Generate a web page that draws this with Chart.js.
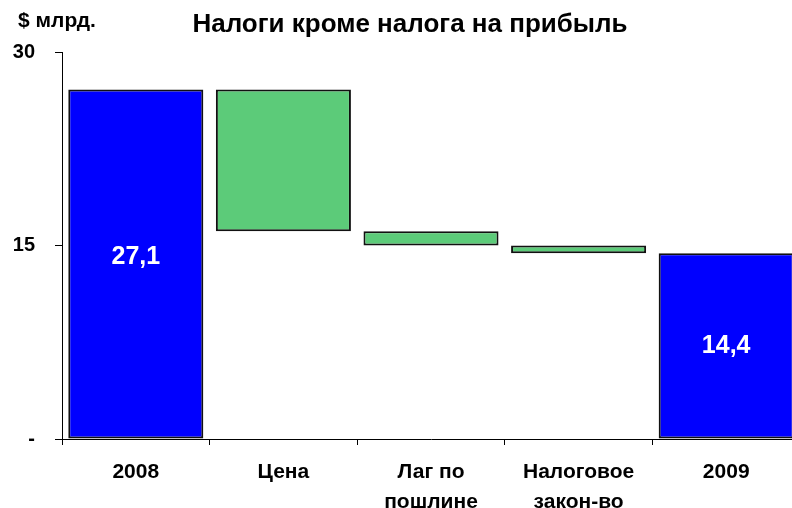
<!DOCTYPE html>
<html>
<head>
<meta charset="utf-8">
<script src="https://cdn.jsdelivr.net/npm/chart.js@4"></script>
<style>
  html, body { margin: 0; padding: 0; overflow: hidden; background: #fff; }
  #wrap { width: 800px; height: 508px; }
</style>
</head>
<body>
<div id="wrap"><canvas id="c" width="800" height="508"></canvas></div>
<script>
// Waterfall: non-profit taxes, $ bn
const categories = [['2008'], ['Цена'], ['Лаг по', 'пошлине'], ['Налоговое', 'закон-во'], ['2009']];
const totals = [27.1, null, null, null, 14.4];          // full bars
const changes = [null, [16.1, 27.1], [15.0, 16.1], [14.4, 15.0], null]; // floating steps
const totalLabels = ['27,1', null, null, null, '14,4'];
const yTicks = [0, 15, 30];

const BLUE = '#0000ff';
const GREEN = '#5ccb79';
const FONT = '"Liberation Sans", Arial, sans-serif';

const overlay = {
  id: 'overlay',
  afterDatasetsDraw(chart) {
    const ctx = chart.ctx;
    const meta = chart.getDatasetMeta(0);
    ctx.save();
    ctx.fillStyle = '#fff';
    ctx.font = 'bold 25px ' + FONT;
    ctx.textAlign = 'center';
    ctx.textBaseline = 'middle';
    totalLabels.forEach((t, i) => {
      if (!t) return;
      const el = meta.data[i];
      const y = chart.scales.y.getPixelForValue(totals[i] / 2);
      ctx.fillText(t, el.x, y - (i === 0 ? 7 : 0));
    });
    ctx.restore();
  },
  afterDraw(chart) {
    const ctx = chart.ctx;
    ctx.save();
    ctx.fillStyle = '#000';
    ctx.textBaseline = 'middle';
    ctx.font = 'bold 26px ' + FONT;
    ctx.textAlign = 'center';
    ctx.fillText('Налоги кроме налога на прибыль', 410, 25);
    ctx.font = 'bold 21px ' + FONT;
    ctx.textAlign = 'left';
    ctx.fillText('$ млрд.', 18, 21);
    ctx.restore();
  }
};

const barStyle = {
  borderColor: '#111',
  borderWidth: 2,
  borderSkipped: false,
  barPercentage: 0.915,
  categoryPercentage: 1,
  grouped: false
};

new Chart(document.getElementById('c'), {
  type: 'bar',
  data: {
    labels: categories,
    datasets: [
      Object.assign({ data: totals, backgroundColor: BLUE }, barStyle),
      Object.assign({ data: changes, backgroundColor: GREEN }, barStyle)
    ]
  },
  options: {
    responsive: false,
    animation: false,
    layout: { padding: { top: 52, left: 0, right: 0, bottom: 0 } },
    plugins: { legend: { display: false }, tooltip: { enabled: false }, title: { display: false } },
    scales: {
      x: {
        offset: true,
        grid: {
          offset: true,
          drawOnChartArea: false,
          drawTicks: true,
          tickLength: 6,
          color: '#000',
          lineWidth: 1
        },
        border: { color: '#000', width: 1 },
        ticks: {
          color: '#000',
          font: { family: FONT, size: 21, weight: 'bold', lineHeight: 1.43 },
          padding: 12,
          maxRotation: 0,
          autoSkip: false
        },
        afterFit(scale) { scale.height = 69; }
      },
      y: {
        min: 0,
        max: 30,
        afterBuildTicks(scale) { scale.ticks = yTicks.map(v => ({ value: v })); },
        grid: {
          drawOnChartArea: false,
          drawTicks: true,
          tickLength: 7,
          color: '#000',
          lineWidth: 1
        },
        border: { color: '#000', width: 1 },
        ticks: {
          color: '#000',
          font: { family: FONT, size: 20, weight: 'bold' },
          padding: 20,
          callback: v => (v === 0 ? '-' : String(v))
        },
        afterFit(scale) { scale.width = 62; }
      }
    }
  },
  plugins: [overlay]
});
</script>
</body>
</html>
